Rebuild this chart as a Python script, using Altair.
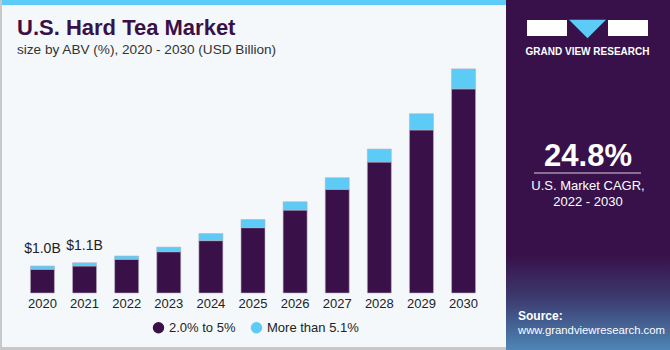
import altair as alt
import pandas as pd

years = ["2020", "2021", "2022", "2023", "2024", "2025", "2026", "2027", "2028", "2029", "2030"]
low_abv = [0.88, 1.00, 1.25, 1.53, 1.94, 2.42, 3.07, 3.84, 4.85, 6.04, 7.56]
high_abv = [0.12, 0.12, 0.12, 0.17, 0.26, 0.30, 0.31, 0.43, 0.48, 0.60, 0.74]
segments = ["2.0% to 5%", "More than 5.1%"]
seg_colors = ["#3a1048", "#5ccbf5"]
label_years = ["2020", "2021"]
label_texts = ["$1.0B", "$1.1B"]

FONT = "Liberation Sans"
DARK = "#3a1048"

rows = []
for i, y in enumerate(years):
    rows.append({"year": y, "segment": segments[0], "value": low_abv[i], "ord": 0})
    rows.append({"year": y, "segment": segments[1], "value": high_abv[i], "ord": 1})
bars_df = pd.DataFrame(rows)

totals = {y: low_abv[i] + high_abv[i] for i, y in enumerate(years)}
lab_df = pd.DataFrame({"year": label_years, "text": label_texts,
                       "total": [totals[y] for y in label_years]})
years_df = pd.DataFrame({"year": years})

xscale = alt.Scale(domain=years, range=[22, 484], paddingInner=0.43, paddingOuter=0.2)
yscale = alt.Scale(domain=[0, 10], range=[293, 23])

bars = alt.Chart(bars_df).mark_bar(stroke="#b9b0c2", strokeWidth=0.6).encode(
    x=alt.X("year:N", scale=xscale, axis=None),
    y=alt.Y("value:Q", stack="zero", scale=yscale, axis=None),
    color=alt.Color("segment:N", scale=alt.Scale(domain=segments, range=seg_colors),
                    legend=alt.Legend(title=None, orient="none", legendX=152, legendY=321,
                                      direction="horizontal", symbolType="circle",
                                      symbolSize=130, symbolStrokeWidth=0,
                                      labelFont=FONT, labelFontSize=13, labelColor="#222",
                                      columnPadding=14, symbolOffset=0)),
    order=alt.Order("ord:Q"),
)

bar_labels = alt.Chart(lab_df).mark_text(font=FONT, fontSize=14, color="#222", dy=-17).encode(
    x=alt.X("year:N", scale=xscale, axis=None),
    y=alt.Y("total:Q", scale=yscale, axis=None),
    text="text:N",
)

year_labels = alt.Chart(years_df).mark_text(font=FONT, fontSize=13, color="#222", baseline="middle").encode(
    x=alt.X("year:N", scale=xscale, axis=None),
    y=alt.value(304),
    text="year:N",
)

def txt(text, x, y, **kw):
    return alt.Chart(pd.DataFrame({"a": [0]})).mark_text(text=text, font=FONT, **kw).encode(
        x=alt.value(x), y=alt.value(y))

def rect(x, x2, y, y2, **kw):
    return alt.Chart(pd.DataFrame({"a": [0]})).mark_rect(**kw).encode(
        x=alt.value(x), x2=alt.value(x2), y=alt.value(y), y2=alt.value(y2))

title = txt("U.S. Hard Tea Market", 17, 35, fontSize=22, fontWeight="bold", color=DARK,
            align="left", baseline="alphabetic")
subtitle = txt("size by ABV (%), 2020 - 2030 (USD Billion)", 17, 54, fontSize=13.6, color="#333",
               align="left", baseline="alphabetic")

panel = rect(506, 670, 0, 350, color="#38114a")
panel_grad = rect(506, 670, 255, 350, fill=alt.Gradient(
    gradient="linear", x1=0, y1=0, x2=0, y2=1,
    stops=[alt.GradientStop(offset=0, color="#38114a"),
           alt.GradientStop(offset=0.45, color="#3c3a6e"),
           alt.GradientStop(offset=1, color="#4d86b6")]))
top_stripe = rect(0, 670, 0, 5, color="#5ccbf5")
left_border = rect(0, 2, 0, 350, color="#c8c8c8")
bottom_border = rect(0, 670, 347, 350, color="#c8c8c8")

logo_l = rect(527, 567, 20, 36, color="white")
logo_r = rect(608, 648, 20, 36, color="white")
tri = alt.Chart(pd.DataFrame({"a": [0]})).mark_point(
    shape="M-1,-0.5L1,-0.5L0,0.5Z", filled=True, color="#5ccbf5", opacity=1, size=1369
).encode(x=alt.value(587.5), y=alt.value(29))
gvr = txt("GRAND VIEW RESEARCH", 587.5, 52, fontSize=10, fontWeight="bold", color="white",
          align="center", baseline="middle")

cagr = txt("24.8%", 588, 166, fontSize=31, fontWeight="bold", color="white", align="center",
           baseline="alphabetic")
cagr_line = alt.Chart(pd.DataFrame({"a": [0]})).mark_rule(color="#d8d0de", strokeWidth=1).encode(
    x=alt.value(534), x2=alt.value(641), y=alt.value(173))
cagr1 = txt("U.S. Market CAGR,", 588, 186, fontSize=13, color="white", align="center", baseline="middle")
cagr2 = txt("2022 - 2030", 588, 202, fontSize=13, color="white", align="center", baseline="middle")
src1 = txt("Source:", 518, 316, fontSize=12, fontWeight="bold", color="white", align="left", baseline="middle")
src2 = txt("www.grandviewresearch.com", 518, 331, fontSize=11.3, color="white", align="left", baseline="middle")

chart = alt.layer(
    top_stripe, left_border, bottom_border, panel, panel_grad,
    bars, bar_labels, year_labels, title, subtitle,
    logo_l, logo_r, tri, gvr, cagr, cagr_line, cagr1, cagr2, src1, src2,
).properties(
    width=670, height=350, padding=0, autosize=alt.AutoSizeParams(type="none"),
    background="#f4f8fb",
).configure_view(stroke=None, fill="#f4f8fb")

chart.save("out.html", embed_options={"renderer": "svg", "actions": False})
